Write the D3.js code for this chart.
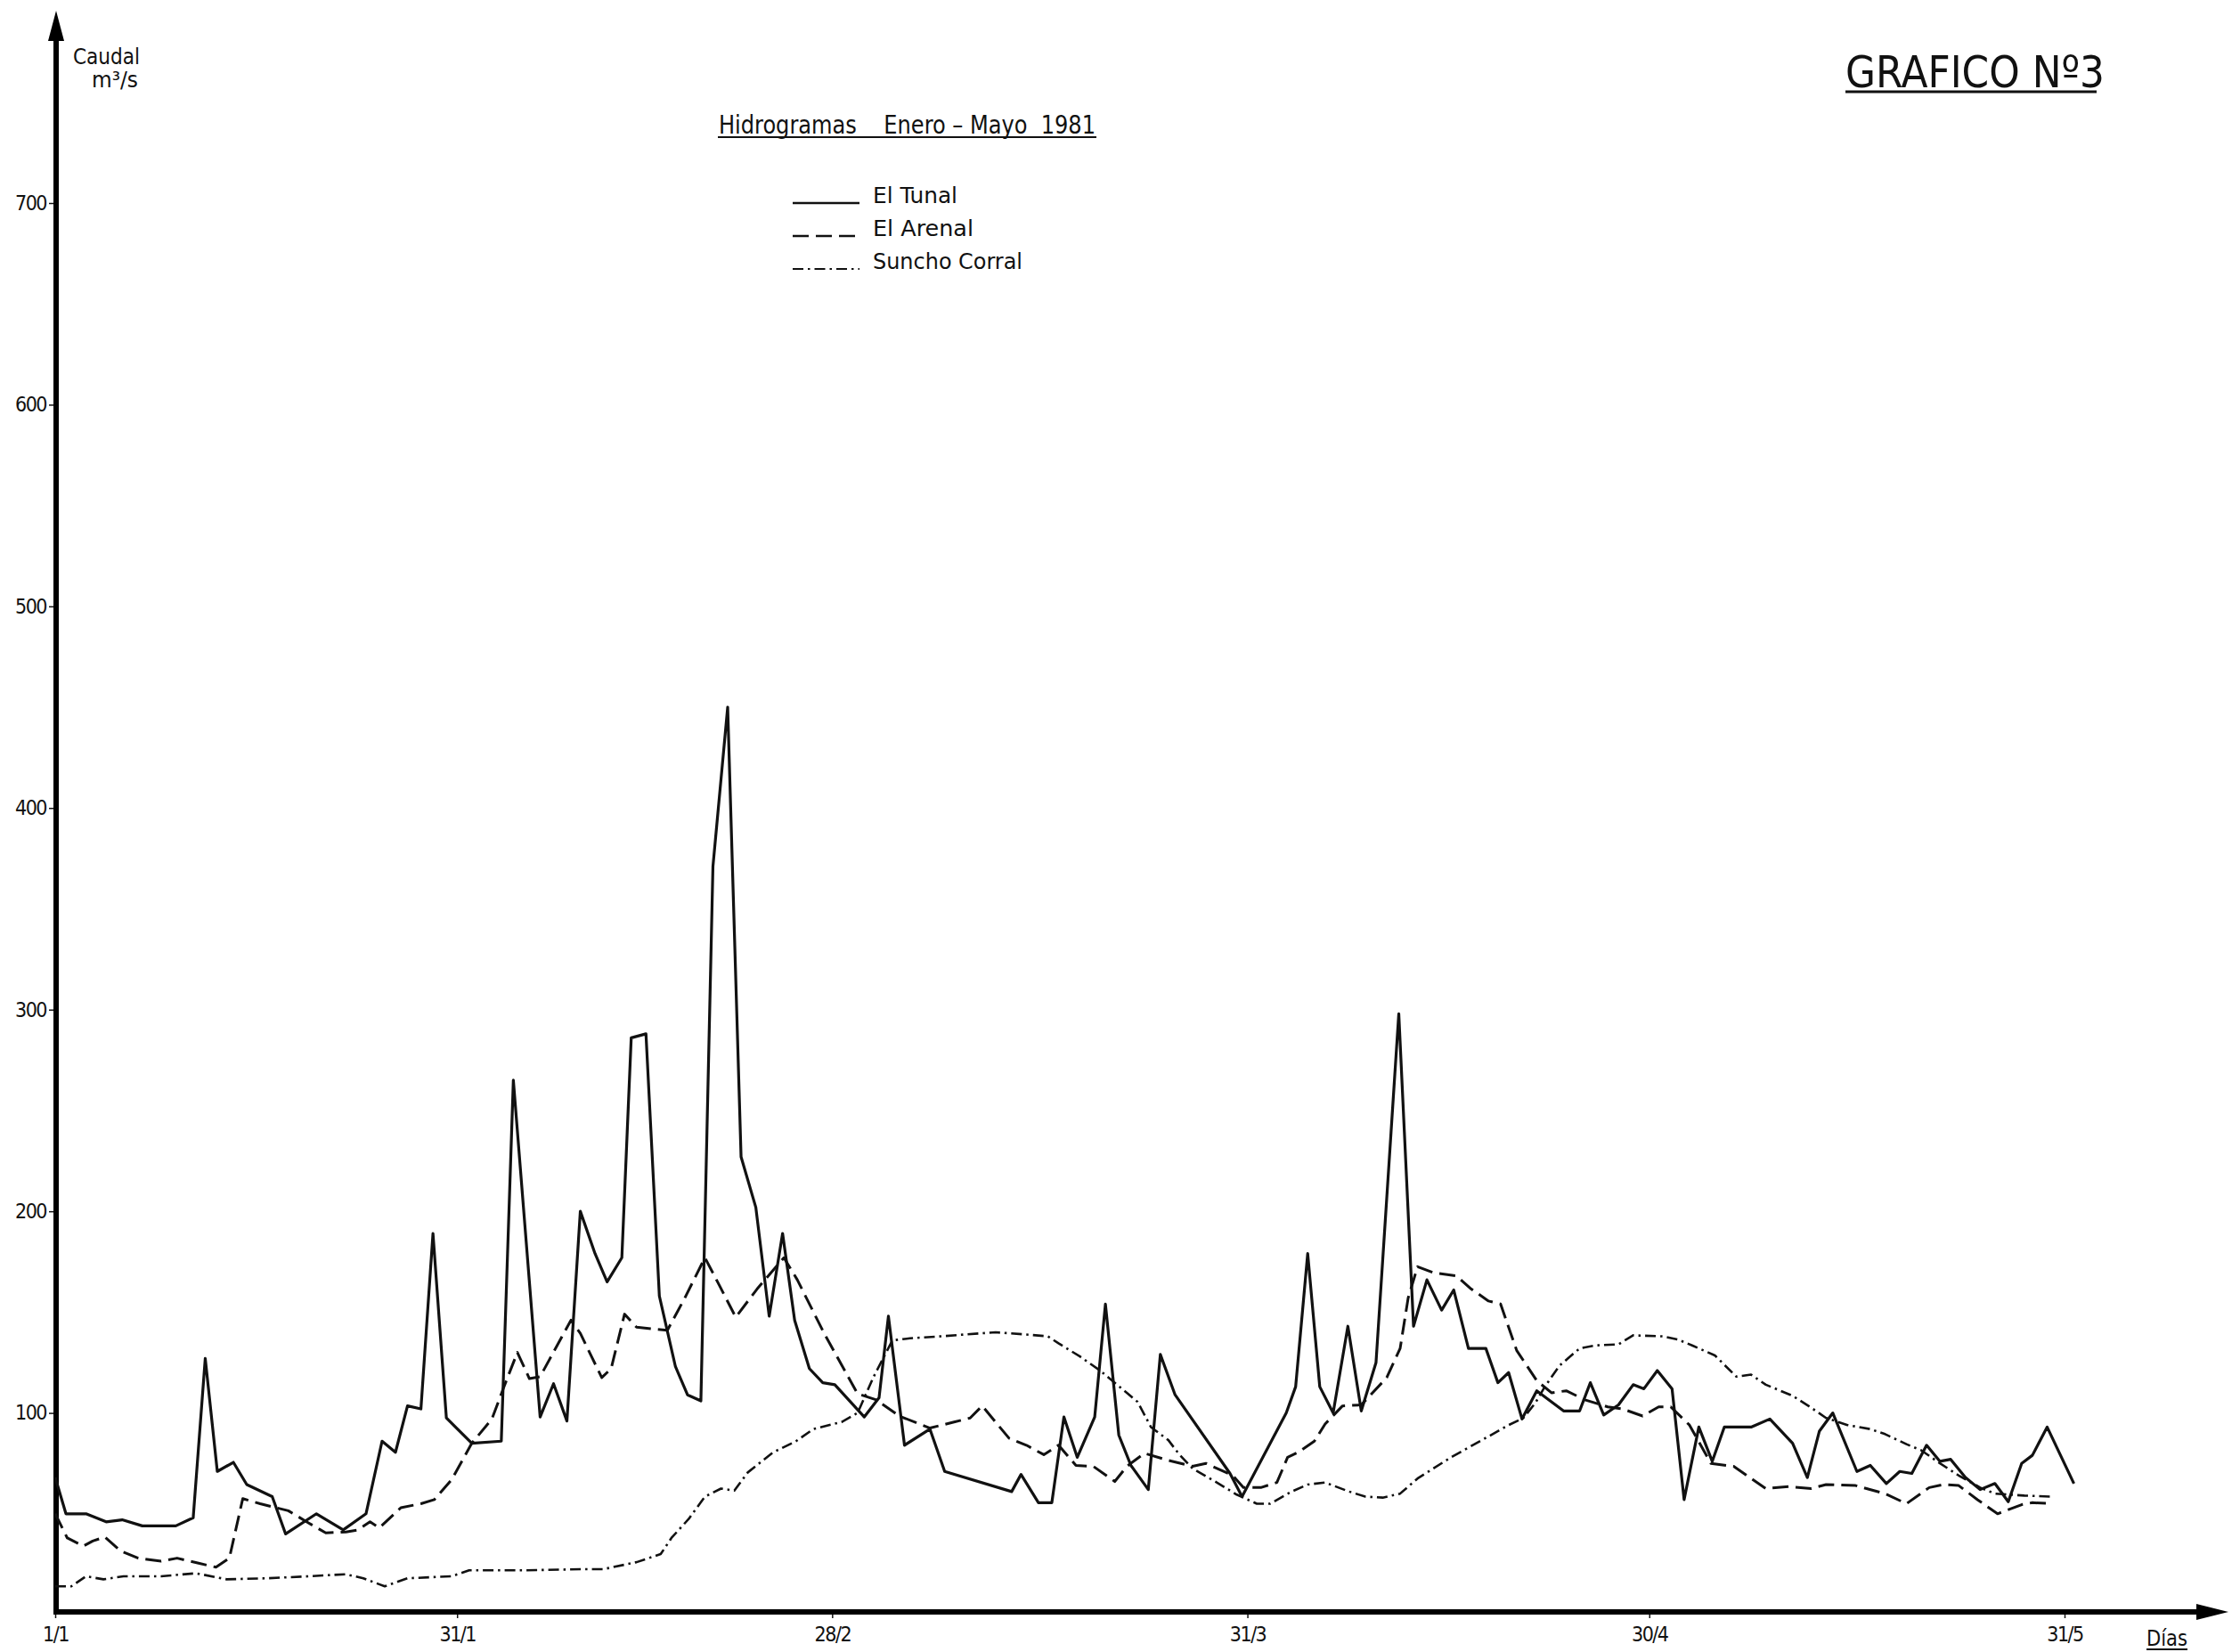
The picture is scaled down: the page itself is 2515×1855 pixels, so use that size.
<!DOCTYPE html>
<html>
<head>
<meta charset="utf-8">
<script src="https://cdn.jsdelivr.net/npm/d3@7"></script>
<style>
  body { margin: 0; background: #fff; }
  svg { display: block; background: #fff; }
  text { font-family: "DejaVu Sans Condensed", "DejaVu Sans", sans-serif; fill: #111; }
</style>
</head>
<body>
<svg id="chart" width="2515" height="1855"></svg>
<script>
// [day of year, caudal m3/s], Jan - May 1981
const elTunal = [
  [1,68],[1.8,50],[3.3,50],[4.8,46],[6,47],[7.5,44],[10,44],[11.3,48],[12.2,127],[13.1,71],
  [14.3,75.5],[15.3,64.5],[17.2,58.5],[18.2,40],[20.5,50],[22.5,42],[24.2,50],[25.4,86],[26.4,80.5],
  [27.3,103.5],[28.3,102],[29.2,189],[30.2,97.5],[32.1,85],[34.3,86],[35.2,265],[37.2,98],[38.2,114.5],
  [39.2,96],[40.2,200],[41.3,179],[42.2,165],[43.3,177],[44,286],[45.1,288],[46.1,158],[47.3,123],
  [48.2,109],[49.2,106],[50.1,371],[51.2,450],[52.2,227],[53.3,202],[54.3,148],[55.3,189],[56.2,146],
  [57.3,122],[58.3,115],[59.2,114],[61.4,98],[62.5,107.5],[63.2,148],[64.4,84],[66.3,92],[67.4,71],
  [72.4,61],[73.1,69.5],[74.4,55.5],[75.4,55.5],[76.3,98],[77.3,78],[78.6,98],[79.4,154],[80.4,89],
  [81.3,74],[82.6,62],[83.5,129],[84.6,109],[88.7,70],[89.6,58.5],[92.9,100],[93.6,113],[94.5,179],
  [95.4,113],[96.4,100],[97.5,143],[98.5,101],[99.6,125],[101.3,298],[102.4,143],[103.4,166],[104.5,151],
  [105.4,161],[106.5,132],[107.8,132],[108.7,115],[109.5,120],[110.5,97],[111.6,111],[113.6,101],
  [114.8,101],[115.6,115],[116.6,99],[117.7,104],[118.8,114],[119.6,112],[120.6,121],[121.7,112],
  [122.6,57],[123.7,93],[124.7,76],[125.6,93],[127.6,93],[129,97],[130.7,85],[131.8,68],[132.7,91],
  [133.7,100],[135.5,71],[136.5,74],[137.7,65],[138.7,71],[139.6,70],[140.7,84],[141.7,76],[142.5,77],
  [143.6,68],[144.7,62],[145.8,65],[146.8,56],[147.8,75],[148.6,79],[149.7,93],[151.7,65]
];

const elArenal = [
  [1,50],[1.9,38],[3.1,34],[3.8,36.5],[4.7,38.5],[5.9,31.5],[7.2,28],[8.9,26.5],[10.1,28],[11.7,25.5],
  [13,23.5],[14,28],[15,57.5],[16.3,55],[18.4,51.5],[19.9,45.5],[21.2,40.5],[22.7,41],[23.6,42],[24.5,46],
  [25.2,43],[26.8,53],[28.3,55],[29.3,57],[30.6,67],[32.1,85],[33.6,97],[34.5,113],[35.5,130],[36.4,117],
  [37.2,118],[39.5,146],[40.2,139.5],[41.8,117.5],[42.5,122],[43.5,149],[44.4,142.5],[46.7,141],[48,157],
  [49.5,177],[50.6,163],[51.8,147.5],[53.4,161.5],[55.4,177],[56.4,166],[58.4,139.5],[60.9,109.5],
  [62.3,106.5],[64,98.5],[66.3,92.5],[68.1,95.5],[69.3,97.5],[70.2,103.5],[72.2,87.5],[73.5,84],
  [74.8,79.3],[75.9,84],[77.2,74],[78.5,73.5],[80.1,66],[81,73.5],[82.3,80],[84.1,76.5],[85.9,73.5],
  [86.9,75],[88.9,69],[89.7,63],[91,63],[92.2,65.5],[93,78],[93.8,80.5],[95,86],[95.8,94.5],[97.1,103.5],
  [98.5,104],[100.4,117.5],[101.4,132],[102,157],[102.7,172.5],[103.9,169.5],[105.6,168],[106.7,161.5],
  [108,155.5],[108.9,154],[110.1,131],[111.6,116],[112.7,110],[113.8,111],[115.2,106.5],[116.9,103],
  [118,102],[119.5,98.5],[120.7,103],[121.6,103],[123,94],[124.6,75],[126.3,73.5],[128.7,62.5],
  [130.4,63.5],[132.1,62.5],[133.2,64.5],[135.4,64],[137.6,60],[139.2,55],[140.9,63],[142,64.5],
  [143.1,64],[144.5,57],[146,50],[147.8,54.5],[148.6,55.5],[150.1,55]
];

const sunchoCorral = [
  [1,14],[2.2,14],[3.3,19],[4.6,17.5],[6.1,19],[8.9,19],[11.5,20.5],[13.8,17.5],[16.8,18],[19.9,19],
  [22.7,20],[24,18],[25.6,14],[27.3,18],[30.6,19],[31.9,22],[36.2,22],[40.3,22.5],[41.9,22.5],[44.4,26],
  [46.2,30],[47,38],[48.3,47.5],[49.5,58.5],[50.7,62.5],[51.7,61.5],[52.7,70.5],[54.6,80.5],[56.3,86],
  [57.6,92],[59.7,95.5],[60.9,100],[62.1,118],[63.5,136],[64.8,137],[67.1,138],[69.1,139],[71.2,140],
  [73.3,139],[75.1,138],[75.9,134.5],[77.5,128],[79,121],[81,110],[81.8,105.5],[82.8,93],[84.1,86.5],
  [84.9,79.5],[85.9,72.5],[87.6,66],[89.2,59.5],[90.7,55],[91.7,55],[93.3,61],[94.5,64.5],[95.8,65.5],
  [97.6,61],[98.8,58.5],[100.1,58],[101.4,60],[102.7,67.5],[105.2,78],[107.5,86.5],[109.5,94],
  [110.6,97.5],[111.5,105],[112.2,113],[113.3,123.5],[114.8,132],[116,133.5],[117.7,134],[118.8,138.5],
  [121,138],[122.1,136.5],[123.2,133.5],[124.9,128.5],[126.5,118],[127.6,119],[128.7,114],[130.7,108.5],
  [132,103],[133.2,97.5],[134.8,94],[136.5,92],[137.6,89.5],[139.2,84.5],[140.3,81.5],[141.7,75],
  [143.1,69],[144.7,63],[145.8,60],[148,59],[150.1,58.5]
];

const seriesNames = ["El Tunal", "El Arenal", "Suncho Corral"];
const dayTicks = [1, 31, 59, 90, 120, 151];
const dayLabels = ["1/1", "31/1", "28/2", "31/3", "30/4", "31/5"];
const caudalTicks = [100, 200, 300, 400, 500, 600, 700];

const series = [
  { name: seriesNames[0], values: elTunal, dash: null, width: 3.2 },
  { name: seriesNames[1], values: elArenal, dash: "18,8", width: 3 },
  { name: seriesNames[2], values: sunchoCorral, dash: "12,5,2.5,5", width: 2.6 }
];

const svg = d3.select("#chart");

const x = d3.scaleLinear().domain([1, 151]).range([62, 2318]);
const y = d3.scaleLinear().domain([0, 700]).range([1813, 228]);

// axes (ticks + labels only, the heavy lines are drawn with arrows below)
const yAxis = svg.append("g")
  .attr("transform", "translate(63,0)")
  .call(d3.axisLeft(y).tickValues(caudalTicks).tickSize(8).tickPadding(3));
yAxis.select(".domain").remove();
yAxis.selectAll("line").attr("stroke", "#111").attr("stroke-width", 1.5);
yAxis.selectAll("text").attr("font-size", 23).attr("letter-spacing", -1.5).attr("fill", "#111");

const xAxis = svg.append("g")
  .attr("transform", "translate(0,1810)")
  .call(d3.axisBottom(x).tickValues(dayTicks).tickFormat((d, i) => dayLabels[i]).tickSize(7).tickPadding(10));
xAxis.select(".domain").remove();
xAxis.selectAll("line").attr("stroke", "#111").attr("stroke-width", 1.5);
xAxis.selectAll("text").attr("font-size", 23).attr("letter-spacing", -1.5).attr("fill", "#111");

// heavy axis lines with arrow heads
svg.append("line").attr("x1", 63).attr("x2", 63).attr("y1", 1813).attr("y2", 44)
  .attr("stroke", "#000").attr("stroke-width", 6);
svg.append("path").attr("d", "M63,12 L54,46 L72,46 Z").attr("fill", "#000");
svg.append("line").attr("x1", 60).attr("x2", 2472).attr("y1", 1810).attr("y2", 1810)
  .attr("stroke", "#000").attr("stroke-width", 6);
svg.append("path").attr("d", "M2502,1810 L2466,1801 L2466,1819 Z").attr("fill", "#000");

// series
const line = d3.line().x(d => x(d[0])).y(d => y(d[1]));
svg.append("g").selectAll("path")
  .data(series)
  .enter()
  .append("path")
  .attr("d", d => line(d.values))
  .attr("fill", "none")
  .attr("stroke", "#111")
  .attr("stroke-width", d => d.width)
  .attr("stroke-linejoin", "round")
  .attr("stroke-dasharray", d => d.dash);

// axis titles
svg.append("text").attr("x", 82).attr("y", 72).attr("font-size", 25)
  .attr("textLength", 75).attr("lengthAdjust", "spacingAndGlyphs").text("Caudal");
svg.append("text").attr("x", 103).attr("y", 98).attr("font-size", 25)
  .attr("textLength", 52).attr("lengthAdjust", "spacingAndGlyphs").text("m³/s");

const dias = svg.append("text").attr("x", 2410).attr("y", 1848).attr("font-size", 24)
  .attr("textLength", 46).attr("lengthAdjust", "spacingAndGlyphs").text("Días");
svg.append("line").attr("x1", 2410).attr("x2", 2456).attr("y1", 1852).attr("y2", 1852)
  .attr("stroke", "#111").attr("stroke-width", 2);

// title
svg.append("text").attr("x", 807).attr("y", 150).attr("font-size", 28)
  .attr("textLength", 423).attr("lengthAdjust", "spacingAndGlyphs")
  .attr("xml:space", "preserve")
  .text("Hidrogramas    Enero \u2013 Mayo  1981");
svg.append("line").attr("x1", 806).attr("x2", 1231).attr("y1", 154).attr("y2", 154)
  .attr("stroke", "#111").attr("stroke-width", 2);

svg.append("text").attr("x", 2072).attr("y", 98).attr("font-size", 50)
  .attr("textLength", 291).attr("lengthAdjust", "spacingAndGlyphs")
  .attr("font-weight", "normal").text("GRAFICO Nº3");
svg.append("line").attr("x1", 2072).attr("x2", 2354).attr("y1", 103).attr("y2", 103)
  .attr("stroke", "#111").attr("stroke-width", 3);

// legend
const legendLen = [95, 113, 168];
const legend = svg.append("g").selectAll("g")
  .data(series)
  .enter()
  .append("g")
  .attr("transform", (d, i) => `translate(890,${228 + i * 37})`);
legend.append("line")
  .attr("x1", 0).attr("x2", 75).attr("y1", 0).attr("y2", 0)
  .attr("stroke", "#111")
  .attr("stroke-width", d => d.width - 0.6)
  .attr("stroke-dasharray", d => d.dash);
legend.append("text")
  .attr("x", 90).attr("y", 0)
  .attr("font-size", 24)
  .attr("textLength", (d, i) => legendLen[i])
  .attr("lengthAdjust", "spacingAndGlyphs")
  .text(d => d.name);
</script>
</body>
</html>
